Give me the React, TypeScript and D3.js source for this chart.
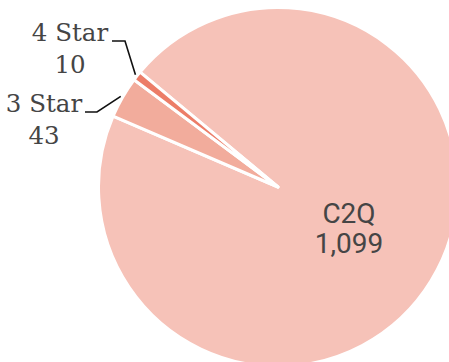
import React from "react";
import * as d3 from "d3";

const categories = ["C2Q", "3 Star", "4 Star"];
const values = [1099, 43, 10];
const colors = ["#f6c2b8", "#f2ac9c", "#ec7d68"];

const W = 449;
const H = 362;
const cx = 278;
const cy = 187;
const R = 179.5;
const startDeg = -50.2;

// label layout: text centre x, first baseline y, elbow x/y, start of horizontal
const outsideLabels: Record<string, { tx: number; ty: number; ex: number; ey: number; hx: number }> = {
  "4 Star": { tx: 70, ty: 41, ex: 125, ey: 41, hx: 112 },
  "3 Star": { tx: 44, ty: 112, ex: 97, ey: 112, hx: 85 },
};

export default function App() {
  const s = (startDeg * Math.PI) / 180;
  const pie = d3
    .pie<number>()
    .sort(null)
    .startAngle(s)
    .endAngle(s + 2 * Math.PI);
  const arcs = pie(values);
  const arc = d3.arc<d3.PieArcDatum<number>>().innerRadius(0).outerRadius(R);
  const fmt = d3.format(",");

  return (
    <svg
      width={W}
      height={H}
      style={{ position: "absolute", left: 0, top: 0, background: "#fff" }}
    >
      <g transform={`translate(${cx},${cy})`}>
        {arcs.map((a, i) => (
          <path
            key={categories[i]}
            d={arc(a) || ""}
            fill={colors[i]}
            stroke="#fff"
            strokeWidth={3}
            strokeLinejoin="round"
          />
        ))}
      </g>
      {arcs.map((a, i) => {
        const name = categories[i];
        const mid = (a.startAngle + a.endAngle) / 2;
        const lay = outsideLabels[name];
        if (!lay) {
          const [x, y] = [cx + 71, cy + 36];
          return (
            <g key={name} fontFamily="Roboto, sans-serif" fontSize={28} fill="#454545" textAnchor="middle">
              <text x={x} y={y}>{name}</text>
              <text x={x} y={y + 30}>{fmt(values[i])}</text>
            </g>
          );
        }
        const px = cx + (R + 2) * Math.sin(mid);
        const py = cy - (R + 2) * Math.cos(mid);
        return (
          <g key={name}>
            <path
              d={`M${lay.hx},${lay.ey}L${lay.ex},${lay.ey}L${px},${py}`}
              fill="none"
              stroke="#111"
              strokeWidth={1.6}
            />
            <g fontFamily="'DejaVu Serif', serif" fontSize={24.5} fill="#454545" textAnchor="middle">
              <text x={lay.tx} y={lay.ty}>{name}</text>
              <text x={lay.tx} y={lay.ty + 32}>{fmt(values[i])}</text>
            </g>
          </g>
        );
      })}
    </svg>
  );
}
